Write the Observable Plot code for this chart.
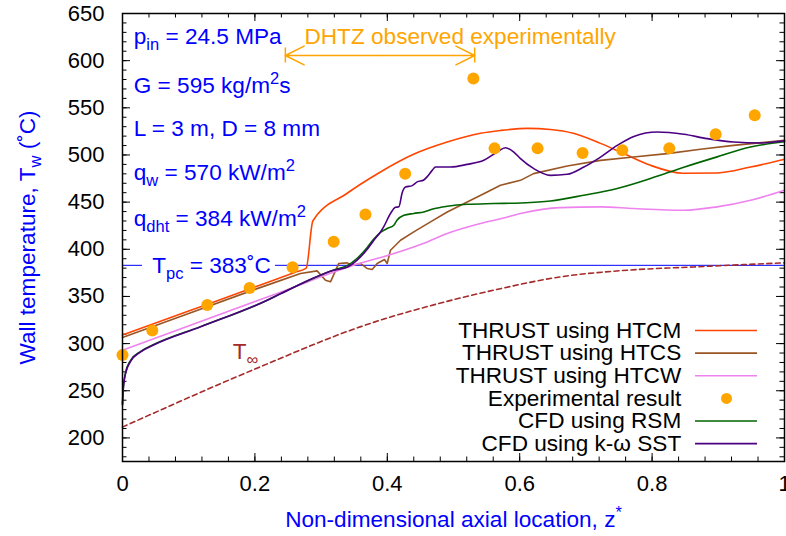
<!DOCTYPE html>
<html>
<head>
<meta charset="utf-8">
<script src="https://cdn.jsdelivr.net/npm/d3@7"></script>
<script src="https://cdn.jsdelivr.net/npm/@observablehq/plot@0.6"></script>
<style>
  html, body { margin: 0; padding: 0; background: #fff; }
</style>
</head>
<body>
<div id="chart"></div>
<script>
// ---------------- DATA ----------------
// Experimental result
const zExp = [0, 0.045, 0.128, 0.192, 0.257, 0.319, 0.367, 0.427, 0.530, 0.562, 0.627, 0.695, 0.755, 0.826, 0.896, 0.955];
const tExp = [288, 314, 341, 359, 381, 408, 437, 480, 581, 507, 507, 502, 505, 507, 522, 542];

// THRUST using HTCM
const zHTCM = [0, 0.1, 0.2, 0.26, 0.2775, 0.2875, 0.3394, 0.3897, 0.4396, 0.4905, 0.5408, 0.571, 0.612, 0.6465, 0.681, 0.722, 0.763, 0.7976, 0.8474, 0.8988, 0.9486, 1.0];
const tHTCM = [309, 334.5, 360, 375.5, 380, 430, 459.4, 482, 500.7, 513.7, 523, 526, 528.2, 527, 523, 512.3, 499.6, 489, 480.6, 480.9, 487.2, 495.5];

// THRUST using HTCS
const zHTCS = [0, 0.1, 0.2, 0.2186, 0.2689, 0.294, 0.3066, 0.3142, 0.3267, 0.3394, 0.347, 0.3595, 0.3697, 0.3772, 0.3847, 0.3958, 0.3998, 0.4048, 0.42, 0.44, 0.4653, 0.4905, 0.5207, 0.5509, 0.571, 0.6012, 0.6209, 0.6718, 0.7221, 0.7719, 0.8228, 0.8731, 0.923, 1.0];
const tHTCS = [306.5, 332, 357.5, 362, 374.3, 377.1, 367.2, 365.5, 385, 385.6, 383.1, 385, 379.6, 378.6, 385, 389.2, 385, 399, 409.6, 418.4, 429, 439.6, 450.2, 460.8, 467.9, 473.1, 480.2, 488.3, 494.3, 497.8, 501.4, 506, 510.2, 515.5];

// THRUST using HTCW
const zHTCW = [0, 0.2387, 0.349, 0.41, 0.4603, 0.4905, 0.5408, 0.5725, 0.6012, 0.6616, 0.722, 0.772, 0.848, 0.898, 0.949, 1.0];
const tHTCW = [293, 354.5, 383, 395.5, 407.8, 416.7, 427.3, 432.6, 437.9, 444.2, 445, 443.2, 441.4, 445, 452, 462.6];

// CFD using RSM
const zRSM = [0, 0.001, 0.0045, 0.012, 0.027, 0.047, 0.118, 0.2186, 0.2387, 0.3192, 0.34, 0.3545, 0.3697, 0.3797, 0.3897, 0.3998, 0.4098, 0.4149, 0.425, 0.44, 0.4552, 0.4703, 0.4905, 0.5207, 0.5609, 0.6012, 0.6465, 0.6969, 0.7473, 0.7976, 0.8479, 0.8983, 0.9486, 1.0];
const tRSM = [236, 252, 269, 282, 291.5, 299, 318, 346, 353, 378, 383, 390.5, 402, 411, 418, 422, 425.5, 431, 436, 438, 439.6, 443, 445.6, 447.7, 448.5, 449.1, 451.2, 457.3, 464.4, 475, 487, 498, 508.4, 514];

// CFD using k-omega SST
const zSST = [0, 0.001, 0.0045, 0.012, 0.027, 0.047, 0.118, 0.2186, 0.2387, 0.3192, 0.34, 0.3595, 0.3697, 0.3797, 0.3897, 0.3947, 0.4048, 0.4124, 0.4174, 0.4225, 0.4275, 0.4376, 0.4452, 0.455, 0.4603, 0.4678, 0.4728, 0.4955, 0.5207, 0.5458, 0.566, 0.5785, 0.5911, 0.6012, 0.6213, 0.6465, 0.6717, 0.6969, 0.7221, 0.7473, 0.7724, 0.8078, 0.8479, 0.8832, 0.9234, 0.9637, 1.0];
const tSST = [235, 250, 268, 281, 291, 298.5, 317.8, 346, 352.8, 377.8, 381.3, 391.9, 400, 409.6, 418.4, 424, 438, 444.5, 445, 460, 466, 467.5, 471.5, 473.5, 477, 483.7, 487.2, 487.2, 490, 494.3, 503.1, 507.6, 503.1, 496.1, 485.5, 478.4, 479.5, 487.2, 497.8, 510.2, 519.7, 524.3, 521.9, 517.3, 513.7, 512.7, 515];

// Bulk fluid temperature T_inf
const zInf = [0, 0.2, 0.36, 0.39, 0.459, 0.561, 0.662, 0.762, 0.863, 1.0];
const tInf = [211.5, 273, 318, 325, 339, 356.7, 370.8, 377.8, 381.3, 385.6];

// Pseudo-critical temperature and DHTZ range
const Tpc = [383];
const dhtzRange = [0.246, 0.532];

// Tick values
const xTicks = [0, 0.2, 0.4, 0.6, 0.8, 1];
const xMinor = d3.range(0, 1.0001, 0.04);
const yTicks = [200, 250, 300, 350, 400, 450, 500, 550, 600, 650];
const yMinor = d3.range(180, 650, 10);

// Labels
const legendLabels = ["THRUST using HTCM", "THRUST using HTCS", "THRUST using HTCW", "Experimental result", "CFD using RSM", "CFD using k-\u03c9 SST"];
const paramLabels = ["p_{in} = 24.5 MPa", "G = 595 kg/m^{2}s", "L = 3 m, D = 8 mm", "q_{w} = 570 kW/m^{2}", "q_{dht} = 384 kW/m^{2}"];
const tpcLabel = "T_{pc} = 383\u02daC";
const infLabel = "T_{\u221e}";
const dhtzLabel = "DHTZ observed experimentally";
const xTitle = "Non-dimensional axial location, z^{*}";
const yTitle = "Wall temperature, T_{w} (\u02daC)";

// ---------------- STYLE / LAYOUT ----------------
const FONT = "'Liberation Sans', Arial, Helvetica, sans-serif";
const FS = 22;      // tick labels
const TFS = 22.6;   // annotation / legend text
const BLUE = "#0000ff";
const ORANGE = "#ffa500";
const colors = {HTCM: "#ff4500", HTCS: "#9a5524", HTCW: "#ee82ee", EXP: ORANGE, RSM: "#006400", SST: "#4b0082", INF: "#a52a2a"};
const LW = 1.6;
const paramRowT = [625.6, 573.7, 528.1, 480.9, 432.7];   // vertical placement of parameter lines (data units)
const paramX = 0.017;
const LEG = {textX: 0.844, x1: 0.8656, x2: 0.9592, dotX: 0.9124, top: 313.9, step: 24.0};
const pxY = 475 / 448;   // data units per pixel in y
const pxX = 1 / 662;     // data units per pixel in x

const rows = (zs, ts) => zs.map((z, i) => ({z, t: ts[i]}));
const seriesDefs = [
  {rows: rows(zHTCM, tHTCM), color: colors.HTCM, curve: "monotone-x"},
  {rows: rows(zHTCS, tHTCS), color: colors.HTCS, curve: "linear"},
  {rows: rows(zHTCW, tHTCW), color: colors.HTCW, curve: "monotone-x"},
  {rows: rows(zRSM, tRSM), color: colors.RSM, curve: "monotone-x"},
  {rows: rows(zSST, tSST), color: colors.SST, curve: "monotone-x"}
];
const legendStyle = [
  {type: "line", color: colors.HTCM},
  {type: "line", color: colors.HTCS},
  {type: "line", color: colors.HTCW},
  {type: "dot", color: colors.EXP},
  {type: "line", color: colors.RSM},
  {type: "line", color: colors.SST}
];
const legendRows = legendLabels.map((label, i) => ({label, i}));

const tickMarks = (minor) => {
  const L = minor ? 4.5 : 8;
  const v = minor ? xMinor : xTicks;
  const h = minor ? yMinor : yTicks;
  return [
    Plot.ruleX(v, {y1: 175, y2: 175 + L * pxY, stroke: "black", strokeWidth: 1}),
    Plot.ruleX(v, {y1: 650 - L * pxY, y2: 650, stroke: "black", strokeWidth: 1}),
    Plot.ruleY(h, {x1: 0, x2: L * pxX, stroke: "black", strokeWidth: 1}),
    Plot.ruleY(h, {x1: 1 - L * pxX, x2: 1, stroke: "black", strokeWidth: 1})
  ];
};

const arrowMid = (dhtzRange[0] + dhtzRange[1]) / 2;
const arrowT = 605.5;

const plot = Plot.plot({
  width: 786,
  height: 536,
  marginLeft: 122,
  marginRight: 2,
  marginTop: 13,
  marginBottom: 75,
  style: {fontFamily: FONT, fontSize: FS + "px", background: "white", color: "black"},
  x: {domain: [0, 1], label: null},
  y: {domain: [175, 650], label: null},
  marks: [
    ...tickMarks(false),
    ...tickMarks(true),
    Plot.axisX({ticks: xTicks, tickSize: 0, tickPadding: 14, tickFormat: d => String(d), fontSize: FS, label: null}),
    Plot.axisY({ticks: yTicks, tickSize: 0, tickPadding: 18, tickFormat: d => String(d), fontSize: FS, label: null}),
    // Tpc line (interrupted by its label)
    Plot.ruleY(Tpc, {x1: 0, x2: 0.0302, stroke: BLUE, strokeWidth: 1}),
    Plot.ruleY(Tpc, {x1: 0.2311, x2: 1, stroke: BLUE, strokeWidth: 1}),
    // T_inf
    Plot.line(rows(zInf, tInf), {x: "z", y: "t", stroke: colors.INF, strokeWidth: LW, strokeDasharray: "5,3.5", curve: "monotone-x"}),
    // model curves
    ...seriesDefs.map(s => Plot.line(s.rows, {x: "z", y: "t", stroke: s.color, strokeWidth: LW, curve: s.curve})),
    // experimental points
    Plot.dot(rows(zExp, tExp), {x: "z", y: "t", r: 6, fill: colors.EXP, stroke: "none"}),
    // frame
    Plot.frame({stroke: "black", strokeWidth: 1.5}),
    // parameter annotations
    ...paramLabels.map((lab, i) => Plot.text([lab], {x: paramX, y: paramRowT[i], textAnchor: "start", fill: BLUE, fontSize: TFS})),
    Plot.text([tpcLabel], {x: 0.0449, y: Tpc[0], textAnchor: "start", fill: BLUE, fontSize: TFS}),
    Plot.text([infLabel], {x: 0.1665, y: 291, textAnchor: "start", fill: colors.INF, fontSize: TFS}),
    // DHTZ annotation
    Plot.text([dhtzLabel], {x: 0.2749, y: 624.9, textAnchor: "start", fill: ORANGE, fontSize: TFS}),
    Plot.arrow(dhtzRange, {x1: () => arrowMid, x2: d => d, y1: arrowT, y2: arrowT, stroke: ORANGE, strokeWidth: 1.5, headLength: 21, headAngle: 53}),
    Plot.ruleX(dhtzRange, {y1: arrowT - 7.5 * pxY, y2: arrowT + 7.5 * pxY, stroke: ORANGE, strokeWidth: 1.5}),
    // legend
    Plot.text(legendRows, {x: LEG.textX, y: d => LEG.top - d.i * LEG.step, text: "label", textAnchor: "end", fill: "black", fontSize: TFS}),
    ...legendRows.filter(d => legendStyle[d.i].type === "line").map(d =>
      Plot.ruleY([LEG.top - d.i * LEG.step], {x1: LEG.x1, x2: LEG.x2, stroke: legendStyle[d.i].color, strokeWidth: LW})),
    ...legendRows.filter(d => legendStyle[d.i].type === "dot").map(d =>
      Plot.dot([LEG.top - d.i * LEG.step], {x: LEG.dotX, y: v => v, r: 5.5, fill: legendStyle[d.i].color, stroke: "none"})),
    // axis titles
    Plot.text([xTitle], {frameAnchor: "bottom", dy: 65, textAnchor: "middle", fill: BLUE, fontSize: TFS}),
    Plot.text([yTitle], {frameAnchor: "left", dx: -95, rotate: -90, textAnchor: "middle", fill: BLUE, fontSize: TFS})
  ]
});

// Rich text: _{...} subscript, ^{...} superscript
function richify(svg) {
  d3.select(svg).selectAll("text").each(function () {
    const s = this.textContent;
    if (!/[_^]\{/.test(s)) return;
    const parts = [];
    const re = /([_^])\{([^}]*)\}/g;
    let last = 0, m;
    while ((m = re.exec(s))) {
      if (m.index > last) parts.push({t: s.slice(last, m.index), k: 0});
      parts.push({t: m[2], k: m[1] === "_" ? 1 : -1});
      last = re.lastIndex;
    }
    if (last < s.length) parts.push({t: s.slice(last), k: 0});
    while (this.firstChild) this.removeChild(this.firstChild);
    let cur = 0;
    for (const p of parts) {
      const off = p.k === 1 ? 6 : p.k === -1 ? -9 : 0;
      const ts = d3.select(this).append("tspan").text(p.t).attr("dy", off - cur);
      if (p.k) ts.attr("font-size", "16.5px");
      cur = off;
    }
  });
}
richify(plot);
document.getElementById("chart").appendChild(plot);
</script>
</body>
</html>
